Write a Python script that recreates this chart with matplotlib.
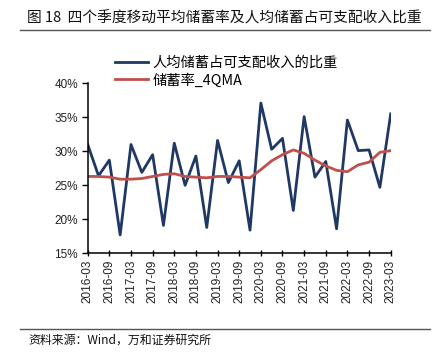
import matplotlib
matplotlib.use("Agg")
import matplotlib.pyplot as plt
import numpy as np

plt.rcParams['font.family'] = ['Noto Sans CJK SC', 'DejaVu Sans']

quarters = ["2016-03","2016-06","2016-09","2016-12",
            "2017-03","2017-06","2017-09","2017-12",
            "2018-03","2018-06","2018-09","2018-12",
            "2019-03","2019-06","2019-09","2019-12",
            "2020-03","2020-06","2020-09","2020-12",
            "2021-03","2021-06","2021-09","2021-12",
            "2022-03","2022-06","2022-09","2022-12",
            "2023-03"]
savings_share = [31.0, 26.4, 28.7, 17.7,
                 31.0, 26.9, 29.5, 19.1,
                 31.2, 25.0, 29.3, 18.8,
                 31.6, 25.4, 28.6, 18.4,
                 37.1, 30.3, 31.9, 21.3,
                 35.1, 26.2, 28.5, 18.6,
                 34.6, 30.1, 30.2, 24.7,
                 35.5]
savings_rate_4qma = [26.3, 26.3, 26.2, 25.9,
                     25.9, 26.0, 26.3, 26.6,
                     26.7, 26.3, 26.2, 26.1,
                     26.3, 26.3, 26.2, 26.1,
                     27.3, 28.6, 29.5, 30.2,
                     29.7, 28.7, 27.85, 27.2,
                     27.0, 28.0, 28.4, 29.85,
                     30.1]
series_labels = ["人均储蓄占可支配收入的比重", "储蓄率_4QMA"]
title = "图 18  四个季度移动平均储蓄率及人均储蓄占可支配收入比重"
source = "资料来源：Wind，万和证券研究所"

W, H = 433, 356
fig = plt.figure(figsize=(W/100, H/100), dpi=100)
ax = fig.add_axes([87.7/W, 1-253.3/H, (390.7-87.7)/W, (253.3-83.3)/H])

x = np.arange(len(quarters))
l1, = ax.plot(x, savings_share, color='#203864', lw=2.0, label=series_labels[0])
l2, = ax.plot(x, savings_rate_4qma, color='#C0504D', lw=2.0, label=series_labels[1])

ax.set_xlim(0, len(quarters)-1)
ax.set_ylim(15, 40)
ax.set_yticks([15, 20, 25, 30, 35, 40])
ax.set_yticklabels([f"{v}%" for v in [15, 20, 25, 30, 35, 40]], fontsize=8.5,
                   family=['Liberation Sans', 'DejaVu Sans'], color='#222222')
ax.set_xticks(x[::2])
ax.set_xticklabels(quarters[::2], rotation=90, fontsize=8.5,
                   family=['Liberation Sans', 'DejaVu Sans'], color='#222222')
ax.tick_params(axis='y', direction='out', length=4, width=1, pad=3)
ax.tick_params(axis='x', direction='inout', length=5, width=1, pad=2)
for s in ['top', 'right']:
    ax.spines[s].set_visible(False)
for s in ['left', 'bottom']:
    ax.spines[s].set_linewidth(1.1)
    ax.spines[s].set_color('black')

leg = fig.legend(handles=[l1, l2], labels=series_labels, loc='upper left',
                 bbox_to_anchor=(115/W, 1-56/H), frameon=False, fontsize=10.3,
                 handlelength=2.3, handletextpad=0.3, labelspacing=0.2,
                 borderaxespad=0, borderpad=0)

fig.text(27/W, 1-18/H, title, ha='left', va='center', fontsize=10.6, color='#111111')
fig.add_artist(plt.Line2D([20/W, 430/W], [1-30/H, 1-30/H], color='#555555', lw=1))
fig.add_artist(plt.Line2D([20/W, 430/W], [1-329/H, 1-329/H], color='#555555', lw=1))
fig.text(28/W, 1-340/H, source, ha='left', va='center', fontsize=8.6, color='#111111')

fig.savefig("out.png", dpi=100)
